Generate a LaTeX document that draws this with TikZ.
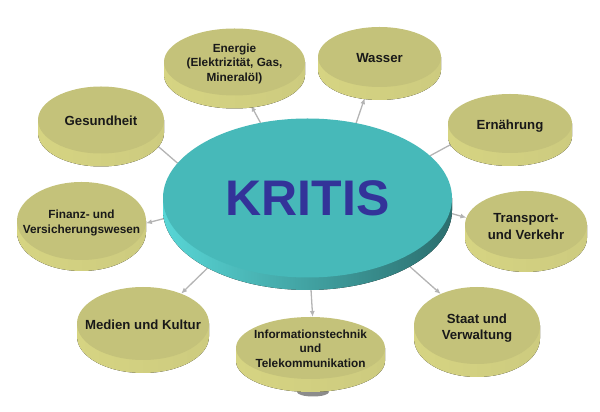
\documentclass[tikz,border=0pt]{standalone}
\usepackage{fontspec}
\setmainfont{Liberation Sans}
\usetikzlibrary{shapes.geometric,arrows.meta,backgrounds}

\definecolor{tuerkis}{HTML}{47B9B9}
\definecolor{tuerkishell}{HTML}{58D6D6}
\definecolor{tuerkismitte}{HTML}{3E9D9D}
\definecolor{tuerkisdunkel}{HTML}{2B6E6E}
\definecolor{oliv}{HTML}{C4C27A}
\definecolor{olivhell}{HTML}{D6D482}
\definecolor{olivmitte}{HTML}{9C9960}
\definecolor{olivrechts}{HTML}{CDCB7F}
\definecolor{kritisblau}{HTML}{333399}
\definecolor{pfeilgrau}{HTML}{B4B4B4}

\tikzset{
  kritis side/.style={left color=tuerkishell, middle color=tuerkismitte, right color=tuerkisdunkel},
  kritis face/.style={ellipse, inner sep=0pt, outer sep=0pt, fill=tuerkis,
    text=kritisblau, font=\bfseries\fontsize{50}{60}\selectfont},
  sektor side/.style={left color=olivhell, middle color=olivmitte, right color=olivrechts},
  sektor face/.style={ellipse, inner sep=0pt, outer sep=0pt, fill=oliv,
    text=black!90, font=\bfseries\fontsize{13.2}{16.5}\selectfont},
  klein/.style={font=\bfseries\fontsize{11.8}{14.8}\selectfont},
  pfeil/.style={draw=pfeilgrau, line width=1.3pt, -{Latex[length=6pt,width=5pt]}}
}

% text without size, so the ellipse keeps its given radii
\newcommand{\mitte}[1]{\makebox[0pt]{\smash{\raisebox{-.42em}{\begin{tabular}{@{}c@{}}#1\end{tabular}}}}}

% #1 name, #2 x, #3 y, #4 rx, #5 ry, #6 height, #7 side style, #8 face style, #9 text
\newcommand{\platte}[9]{%
  \fill[#7] (#2-#4,#3) -- ++(0,-#6)
    arc[start angle=180, end angle=360, x radius=#4, y radius=#5] -- ++(0,#6) -- cycle;
  \node[#8, minimum width=2*#4, minimum height=2*#5] (#1) at (#2,#3) {\mitte{#9}};
}

\begin{document}
\begin{tikzpicture}[x=1pt, y=1pt]
	\useasboundingbox (0,0) rectangle (600,412);

	% mittlere Platte
	\fill[kritis side] (163,214) -- ++(0,-12.5)
		arc[start angle=180, end angle=360, x radius=144.5, y radius=79.5] -- ++(0,12.5) -- cycle;
	\node[kritis face, minimum width=289, minimum height=159] (kritis) at (307.5,214) {KRITIS};

	\platte{energie}{234.5}{350}{70.5}{33.5}{13}{sektor side}{sektor face, klein}{Energie\\(Elektrizität, Gas,\\Mineralöl)}
	\platte{wasser}{379.5}{355}{61.5}{30}{13}{sektor side}{sektor face}{Wasser}
	\platte{gesund}{101}{292}{63}{33.5}{13}{sektor side}{sektor face}{Gesundheit}
	\platte{ernaehrung}{510}{288.5}{62}{29.5}{13}{sektor side}{sektor face}{Ernährung}
	\platte{finanz}{81.5}{191}{64.5}{39}{11}{sektor side}{sektor face, klein}{Finanz- und\\Versicherungswesen}
	\platte{transport}{526}{187}{61}{34}{13}{sektor side}{sektor face}{Transport-\\und Verkehr}
	\platte{medien}{143}{88.5}{66}{36.5}{13}{sektor side}{sektor face}{Medien und Kultur}
	\platte{staat}{477}{86.5}{63}{38.5}{13}{sektor side}{sektor face}{Staat und\\Verwaltung}

	% Schatten unter der unteren Platte
	\fill[black!45] (313,20) ellipse (16 and 4.5);
	\platte{info}{310.5}{64}{74.5}{31}{13}{sektor side}{sektor face, klein}{Informationstechnik\\und\\Telekommunikation}

	\begin{pgfonlayer}{background}
		\draw[pfeil] (kritis.165) -- ([yshift=-3pt]gesund.340);
		\draw[pfeil] (kritis.188) -- (finanz.358);
		\draw[pfeil] (kritis.214) -- (medien.38);
		\draw[pfeil] (kritis.122) -- ([yshift=-11pt]energie.297);
		\draw[pfeil] (kritis.57) -- ([yshift=-12pt]wasser.243);
		\draw[pfeil] (kritis.19) -- ([yshift=-5pt]ernaehrung.194);
		\draw[pfeil] (kritis.354) -- (transport.173);
		\draw[pfeil] (kritis.327) -- (staat.139);
		\draw[pfeil] (kritis.272) -- (info.86);
	\end{pgfonlayer}
\end{tikzpicture}
\end{document}
